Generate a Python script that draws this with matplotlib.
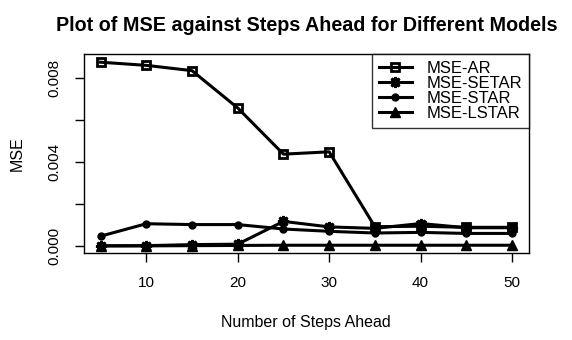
import matplotlib
matplotlib.use('Agg')
import matplotlib.pyplot as plt

plt.rcParams['font.family'] = ['Liberation Sans', 'DejaVu Sans']

# steps ahead and the MSE of each model
steps = [5, 10, 15, 20, 25, 30, 35, 40, 45, 50]
mse_ar = [0.00873, 0.00858, 0.00833, 0.00656, 0.00437, 0.00448, 0.00093, 0.00095, 0.00090, 0.00090]
mse_setar = [0.00002, 0.00003, 0.00008, 0.00010, 0.00118, 0.00092, 0.00085, 0.00108, 0.00088, 0.00088]
mse_star = [0.00048, 0.00107, 0.00103, 0.00103, 0.00082, 0.00071, 0.00063, 0.00066, 0.00061, 0.00061]
mse_lstar = [0.00002, 0.00002, 0.00003, 0.00004, 0.00005, 0.00005, 0.00005, 0.00005, 0.00005, 0.00005]

series = [
    ('MSE-AR', mse_ar, dict(marker='s', mfc='none', ms=6, mew=2)),
    ('MSE-SETAR', mse_setar, dict(marker=(8, 2, 0), ms=8, mew=2)),
    ('MSE-STAR', mse_star, dict(marker='o', ms=5)),
    ('MSE-LSTAR', mse_lstar, dict(marker='^', ms=7)),
]

fig = plt.figure(figsize=(5.72, 3.4), dpi=100)
ax = fig.add_axes([0.147, 0.257, 0.777, 0.583])

for label, vals, style in series:
    ax.plot(steps, vals, color='black', lw=2.2, label=label, **style)

ax.set_xlim(3.2, 51.8)
ax.set_ylim(-0.00030, 0.0091)
ax.set_xticks([10, 20, 30, 40, 50])
ax.set_yticks([0, 0.002, 0.004, 0.006, 0.008])
ax.set_yticklabels(['0.000', '', '0.004', '', '0.008'], rotation=90, va='center')
ax.tick_params(labelsize=11, length=6.5, width=1, direction='out', pad=10)
for s in ax.spines.values():
    s.set_linewidth(1)

ax.set_title('Plot of MSE against Steps Ahead for Different Models',
             fontsize=14.2, fontweight='bold', pad=17)
ax.set_xlabel('Number of Steps Ahead', fontsize=11.5, labelpad=18)
ax.set_ylabel('MSE', fontsize=11.5, labelpad=16)

leg = ax.legend(loc='upper right', fontsize=12, frameon=True, fancybox=False,
                borderaxespad=0, handlelength=2.0, labelspacing=0.0,
                borderpad=0.4, handletextpad=0.85)
leg.get_frame().set_edgecolor('black')
leg.get_frame().set_linewidth(1)

fig.savefig('out.png', dpi=100)
